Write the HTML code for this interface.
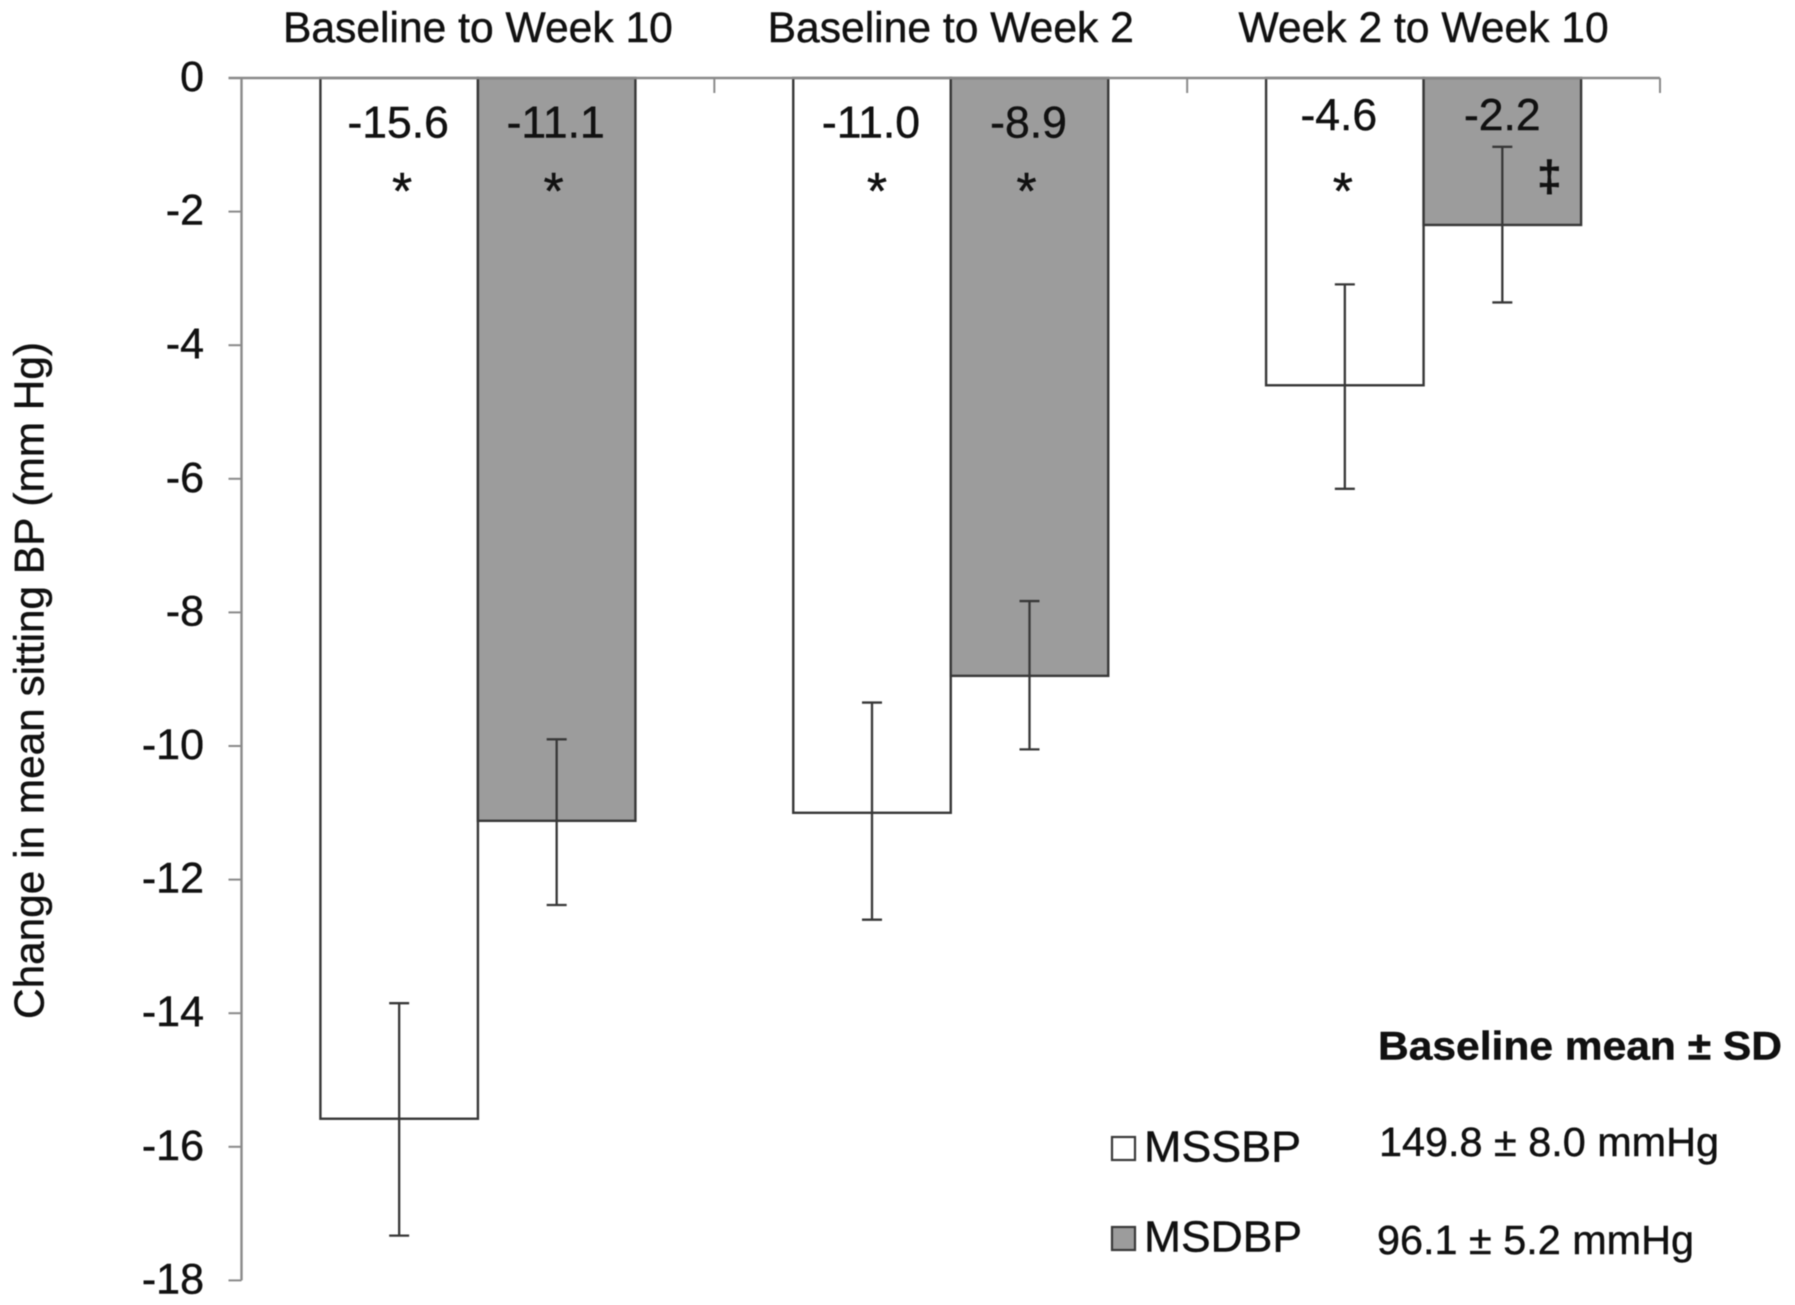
<!DOCTYPE html>
<html lang="en">
<head>
<meta charset="utf-8">
<title>Change in mean sitting BP</title>
<style>
  html, body { margin: 0; padding: 0; background: #fff; }
  body { width: 1795px; height: 1305px; overflow: hidden; }
  svg { display: block; filter: blur(0.6px); }
  text { font-family: "Liberation Sans", sans-serif; fill: #111; stroke: #111; stroke-width: 0.45px; }
</style>
</head>
<body>
<svg id="chart" xmlns="http://www.w3.org/2000/svg" width="1795" height="1305" viewBox="0 0 1795 1305">
  <rect width="1795" height="1305" fill="#fff"/>
  <g id="plot"></g>
  <text transform="translate(43.5 680.5) rotate(-90)" text-anchor="middle" font-size="42" textLength="677" lengthAdjust="spacingAndGlyphs">Change in mean sitting BP (mm Hg)</text>

  <g>
    <text x="1378" y="1059.5" font-size="40" font-weight="bold" textLength="404" lengthAdjust="spacingAndGlyphs">Baseline mean ± SD</text>
    <rect x="1112" y="1137" width="23" height="23" fill="#fff" stroke="#3a3a3a" stroke-width="2.2"/>
    <text x="1144" y="1161.5" font-size="44" textLength="157" lengthAdjust="spacingAndGlyphs">MSSBP</text>
    <text x="1379" y="1156" font-size="41" textLength="340" lengthAdjust="spacingAndGlyphs">149.8 ± 8.0 mmHg</text>
    <rect x="1112" y="1227" width="23" height="23" fill="#9c9c9c" stroke="#3a3a3a" stroke-width="2.2"/>
    <text x="1144" y="1251.5" font-size="44" textLength="158" lengthAdjust="spacingAndGlyphs">MSDBP</text>
    <text x="1377" y="1254" font-size="41" textLength="317" lengthAdjust="spacingAndGlyphs">96.1 ± 5.2 mmHg</text>
  </g>
</svg>
<script>
const categories = ["Baseline to Week 10", "Baseline to Week 2", "Week 2 to Week 10"];
const sbpValues = [-15.58, -11.0, -4.6];
const dbpValues = [-11.12, -8.95, -2.2];
const sbpPrinted = ["-15.6", "-11.0", "-4.6"];
const dbpPrinted = ["-11.1", "-8.9", "-2.2"];
const sbpErrHigh = [-13.85, -9.35, -3.09];
const sbpErrLow = [-17.33, -12.6, -6.15];
const dbpErrHigh = [-9.9, -7.83, -1.03];
const dbpErrLow = [-12.38, -10.05, -3.36];
const sbpMarks = ["*", "*", "*"];
const dbpMarks = ["*", "*", "‡"];
const yTicks = [0, -2, -4, -6, -8, -10, -12, -14, -16, -18];

const NS = "http://www.w3.org/2000/svg";
const plot = document.getElementById("plot");
const AXIS_LEFT = 241.5, AXIS_RIGHT = 1660, AXIS_TOP = 78, UNIT = 66.8, BAR_W = 157.5;
const INK = "#383838", AXIS_INK = "#8a8a8a", GREY = "#9c9c9c";

function yScale(v) { return AXIS_TOP - v * UNIT; }
function bandWidth() { return (AXIS_RIGHT - AXIS_LEFT) / categories.length; }
function groupCenter(i) { return AXIS_LEFT + bandWidth() * (i + 0.5); }
function barLeft(i, s) { return groupCenter(i) - BAR_W + s * BAR_W; }
function barCenter(i, s) { return barLeft(i, s) + BAR_W / 2; }

function make(tag, attrs, parent) {
  const el = document.createElementNS(NS, tag);
  for (const k in attrs) el.setAttribute(k, attrs[k]);
  (parent || plot).appendChild(el);
  return el;
}
function line(x1, y1, x2, y2, color, w) {
  return make("line", { x1: x1, y1: y1, x2: x2, y2: y2, stroke: color, "stroke-width": w });
}

// bars
[sbpValues, dbpValues].forEach(function (series, s) {
  series.forEach(function (v, i) {
    const bar = make("rect", {
      x: barLeft(i, s), y: yScale(0), width: BAR_W, height: yScale(v) - yScale(0),
      fill: s ? GREY : "#fff", stroke: INK, "stroke-width": 2.4
    });
    
    
  });
});

// axes
const yAxisLine = line(AXIS_LEFT, yScale(0), AXIS_LEFT, yScale(-18), AXIS_INK, 2.4);


const xAxisLine = line(AXIS_LEFT - 13, yScale(0), AXIS_RIGHT, yScale(0), AXIS_INK, 2.6);



yTicks.forEach(function (t) {
  const tick = line(AXIS_LEFT - 13, yScale(t), AXIS_LEFT, yScale(t), AXIS_INK, 2);
  
  
  const label = make("text", { x: 204, y: yScale(t) + 13, "text-anchor": "end", "font-size": 43 });
  label.textContent = String(t);
  
  
});

for (let i = 1; i <= categories.length; i++) {
  const x = AXIS_LEFT + bandWidth() * i;
  const tick = line(x, yScale(0), x, yScale(0) + 15, AXIS_INK, 2);
  
  
}

// category labels above the axis
categories.forEach(function (c, i) {
  const label = make("text", { x: groupCenter(i), y: 42, "text-anchor": "middle", "font-size": 42.6 });
  label.textContent = c;
  
  
});

// error bars
[[sbpErrHigh, sbpErrLow], [dbpErrHigh, dbpErrLow]].forEach(function (pair, s) {
  pair[0].forEach(function (hi, i) {
    const lo = pair[1][i];
    const x = barCenter(i, s);
    const stem = line(x, yScale(hi), x, yScale(lo), INK, 2.3);
    
    
    [hi, lo].forEach(function (v) {
      const cap = line(x - 10, yScale(v), x + 10, yScale(v), INK, 2.3);
      
      
    });
  });
});

// nudges for hand-placed annotations in the third group
function labelShift(i, s) { return i === 2 ? (s ? 0 : -6) : (s ? -1 : -1); }
function markShift(i, s) { return i === 2 && !s ? -2 : (s ? -3 : (i === 1 ? 5 : 3)); }

// printed values and significance marks
[sbpPrinted, dbpPrinted].forEach(function (series, s) {
  series.forEach(function (txt, i) {
    const label = make("text", {
      x: barCenter(i, s) + labelShift(i, s), y: i === 2 ? 130 : 137.5,
      "text-anchor": "middle", "font-size": 44.5
    });
    label.textContent = txt;
    
    
  });
});
[sbpMarks, dbpMarks].forEach(function (series, s) {
  series.forEach(function (m, i) {
    const dagger = m === "‡";
    const mark = make("text", {
      x: barCenter(i, s) + (dagger ? 47 : markShift(i, s)), y: dagger ? 191 : 209,
      "text-anchor": "middle", "font-size": dagger ? 44 : 52, "font-weight": dagger ? "bold" : "normal",
      "stroke-width": dagger ? 0.45 : 1.2
    });
    mark.textContent = m;
    
    
  });
});
</script>
</body>
</html>
